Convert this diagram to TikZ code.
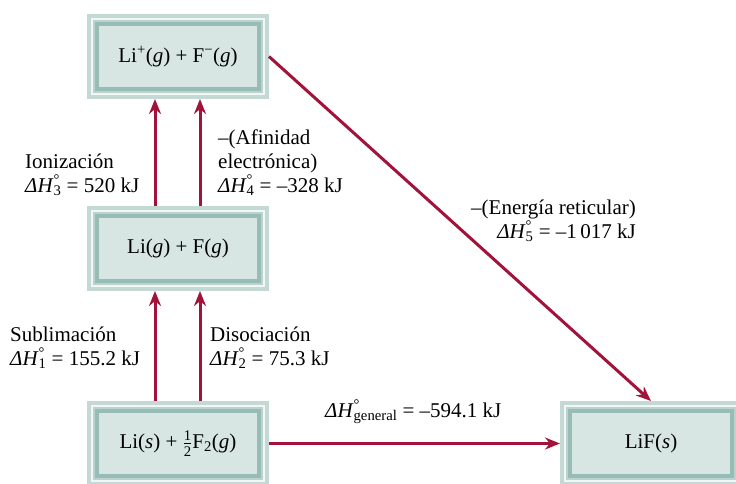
\documentclass[tikz,border=0pt]{standalone}
\usepackage{amsmath}
\usepackage{fontspec}
\setmainfont{Liberation Serif}
\usepackage{tikz}
\usetikzlibrary{arrows.meta, positioning}
\definecolor{arrowred}{RGB}{163,18,58}
\definecolor{boxfill}{RGB}{216,230,227}
\definecolor{boxdark}{RGB}{150,188,181}
\definecolor{boxmid}{RGB}{185,211,206}
\definecolor{boxlight}{RGB}{242,247,246}
\definecolor{boxouter}{RGB}{196,216,212}
\newcommand{\dHo}[1]{\textit{ΔH}\rlap{\textsuperscript{°}}\textsubscript{#1}}
\tikzstyle{species} = [rectangle, minimum width=158pt, minimum height=61pt, align=center, fill=boxfill, inner sep=0pt, outer sep=12pt, font=\rmfamily\fontsize{21}{23.5}\selectfont, preaction={draw=boxouter, line width=24pt}, preaction={draw=boxlight, line width=16pt}, preaction={draw=boxmid, line width=12pt}, preaction={draw=boxdark, line width=8pt}]
\tikzstyle{enthalpy} = [inner sep=0pt, align=left, font=\rmfamily\fontsize{21}{23.5}\selectfont]
\tikzstyle{arrowr} = [line width=3pt, draw=arrowred, -{Stealth[length=15pt, width=12pt]}]

\begin{document}
\begin{tikzpicture}
            \useasboundingbox (0,0) rectangle (736pt,483pt);
            % Nodes
            \node (ions) [species] at (178pt,426.5pt) {Li\textsuperscript{+}(\textit{g}) + F\textsuperscript{−}(\textit{g})};
            \node (atoms) [species, below of=ions, node distance=192pt] {Li(\textit{g}) + F(\textit{g})};
            \node (elements) [species, below of=atoms, node distance=195pt] {Li(\textit{s}) + $\frac{\text{1}}{\text{2}}$F\textsubscript{2}(\textit{g})};
            \node (lif) [species, right of=elements, node distance=473pt] {LiF(\textit{s})};

            % Enthalpy labels (base = last line)
            \node (ioniz) [enthalpy, anchor=base west] at (25pt,291pt) {Ionización\\ \dHo{3} = 520 kJ};
            \node (afin) [enthalpy, anchor=base west] at (218pt,291pt) {–(Afinidad\\electrónica)\\ \dHo{4} = –328 kJ};
            \node (subl) [enthalpy, anchor=base west] at (10pt,118pt) {Sublimación\\ \dHo{1} = 155.2 kJ};
            \node (disoc) [enthalpy, anchor=base west] at (210pt,118pt) {Disociación\\ \dHo{2} = 75.3 kJ};
            \node (reticular) [enthalpy, align=right, anchor=base east] at (636pt,245pt) {–(Energía reticular)\\ \dHo{5} = –1\,017 kJ};
            \node (general) [enthalpy, anchor=base west] at (325pt,66pt) {\dHo{general} = –594.1 kJ};

            % Edges
            \draw [arrowr] ([xshift=-23pt]atoms.north) -- ([xshift=-23pt]ions.south);
            \draw [arrowr] ([xshift=22pt]atoms.north) -- ([xshift=22pt]ions.south);
            \draw [arrowr] ([xshift=-23pt]elements.north) -- ([xshift=-23pt]atoms.south);
            \draw [arrowr] ([xshift=22pt]elements.north) -- ([xshift=22pt]atoms.south);

            \draw [arrowr] (ions.east) -- (lif.north);
            \draw [arrowr] (elements) -- (lif);

        \end{tikzpicture}
\end{document}
